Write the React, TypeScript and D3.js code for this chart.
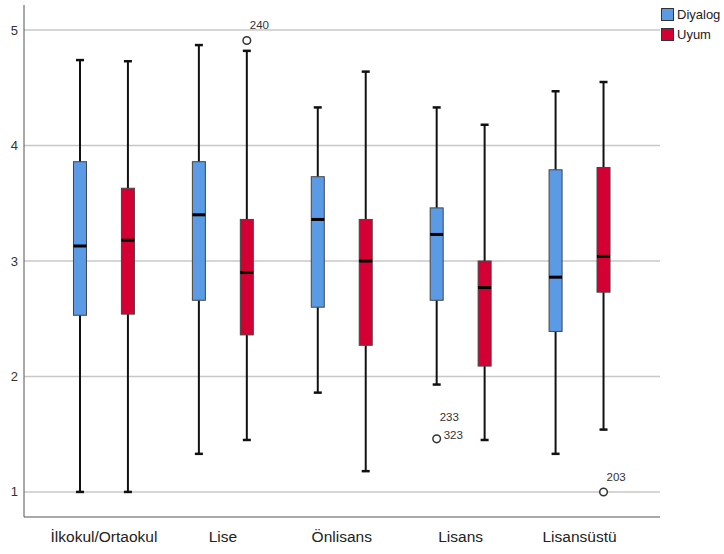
import React from "react";
import * as d3 from "d3";

const categories = ["İlkokul/Ortaokul", "Lise", "Önlisans", "Lisans", "Lisansüstü"];
const seriesNames = ["Diyalog", "Uyum"];
const seriesColors = ["#5b9be6", "#d40033"];
const yTicks = [1, 2, 3, 4, 5];

// per category, [Diyalog, Uyum]
const whiskerLow = [[1.0, 1.0], [1.33, 1.45], [1.86, 1.18], [1.93, 1.45], [1.33, 1.54]];
const q1 = [[2.53, 2.54], [2.66, 2.36], [2.6, 2.27], [2.66, 2.09], [2.39, 2.73]];
const median = [[3.13, 3.18], [3.4, 2.9], [3.36, 3.0], [3.23, 2.77], [2.86, 3.04]];
const q3 = [[3.86, 3.63], [3.86, 3.36], [3.73, 3.36], [3.46, 3.0], [3.79, 3.81]];
const whiskerHigh = [[4.74, 4.73], [4.87, 4.82], [4.33, 4.64], [4.33, 4.18], [4.47, 4.55]];

const outlierCat = [1, 3, 4];
const outlierSeries = [1, 0, 1];
const outlierValue = [4.91, 1.46, 1.0];
const outlierLabels = [["240"], ["233", "323"], ["203"]];

const W = 724;
const H = 554;
const FONT = "'Liberation Sans', Arial, sans-serif";

export default function App() {
  const left = 24;
  const right = 660;
  const top = 5;
  const bottom = 517;

  const y = d3.scaleLinear().domain([0.783, 5.217]).range([bottom, top]);
  const x = d3.scaleBand<string>().domain(categories).range([44.5, 639]).padding(0);
  const sub = d3.scaleBand<string>().domain(seriesNames).range([0, x.bandwidth()]).paddingInner(0.7).paddingOuter(0.59);

  const boxW = 13;
  const capW = 8;

  const cx = (ci: number, si: number) =>
    (x(categories[ci]) as number) + (sub(seriesNames[si]) as number) + sub.bandwidth() / 2;

  return (
    <svg width={W} height={H} style={{ position: "absolute", left: 0, top: 0, background: "#fff" }}>
      <rect x={0} y={0} width={W} height={H} fill="#fff" />
      {yTicks.map((t) => (
        <line key={"g" + t} x1={left} x2={right} y1={y(t)} y2={y(t)} stroke="#c8c8c8" strokeWidth={1.5} />
      ))}
      <line x1={left} x2={left} y1={top} y2={bottom} stroke="#555" strokeWidth={1} />
      <line x1={left} x2={right} y1={bottom} y2={bottom} stroke="#555" strokeWidth={1} />
      {yTicks.map((t) => (
        <text key={"t" + t} x={left - 6} y={y(t)} dy="0.35em" textAnchor="end" fontFamily={FONT} fontSize={13} fill="#333">
          {t}
        </text>
      ))}
      {categories.map((c) => (
        <text key={c} x={(x(c) as number) + x.bandwidth() / 2} y={542} textAnchor="middle" fontFamily={FONT} fontSize={15.5} fill="#222">
          {c}
        </text>
      ))}
      {categories.map((c, ci) =>
        seriesNames.map((s, si) => {
          const xc = cx(ci, si);
          return (
            <g key={c + s}>
              <line x1={xc} x2={xc} y1={y(whiskerHigh[ci][si])} y2={y(q3[ci][si])} stroke="#111" strokeWidth={2} />
              <line x1={xc} x2={xc} y1={y(q1[ci][si])} y2={y(whiskerLow[ci][si])} stroke="#111" strokeWidth={2} />
              <line x1={xc - capW / 2} x2={xc + capW / 2} y1={y(whiskerHigh[ci][si])} y2={y(whiskerHigh[ci][si])} stroke="#111" strokeWidth={2.5} />
              <line x1={xc - capW / 2} x2={xc + capW / 2} y1={y(whiskerLow[ci][si])} y2={y(whiskerLow[ci][si])} stroke="#111" strokeWidth={2.5} />
              <rect
                x={xc - boxW / 2}
                y={y(q3[ci][si])}
                width={boxW}
                height={y(q1[ci][si]) - y(q3[ci][si])}
                fill={seriesColors[si]}
                stroke="#444"
                strokeWidth={1}
              />
              <line x1={xc - boxW / 2} x2={xc + boxW / 2} y1={y(median[ci][si])} y2={y(median[ci][si])} stroke="#000" strokeWidth={3} />
            </g>
          );
        })
      )}
      {outlierValue.map((v, i) => {
        const xc = cx(outlierCat[i], outlierSeries[i]);
        const yc = y(v);
        const labs = outlierLabels[i];
        return (
          <g key={"o" + i}>
            <circle cx={xc} cy={yc} r={3.8} fill="#fff" stroke="#333" strokeWidth={1.5} />
            {labs.length === 1 ? (
              <text x={xc + 3} y={yc - 11} fontFamily={FONT} fontSize={11.5} fill="#333">
                {labs[0]}
              </text>
            ) : (
              <>
                <text x={xc + 3} y={yc - 18} fontFamily={FONT} fontSize={11.5} fill="#333">
                  {labs[0]}
                </text>
                <text x={xc + 7} y={yc} fontFamily={FONT} fontSize={11.5} fill="#333">
                  {labs[1]}
                </text>
              </>
            )}
          </g>
        );
      })}
      {seriesNames.map((s, i) => (
        <g key={"l" + s} transform={`translate(661, ${8 + i * 20})`}>
          <rect x={0.5} y={0.5} width={12} height={12} fill={seriesColors[i]} stroke="#333" strokeWidth={1} />
          <text x={16} y={11} fontFamily={FONT} fontSize={13} fill="#222">
            {s}
          </text>
        </g>
      ))}
    </svg>
  );
}
